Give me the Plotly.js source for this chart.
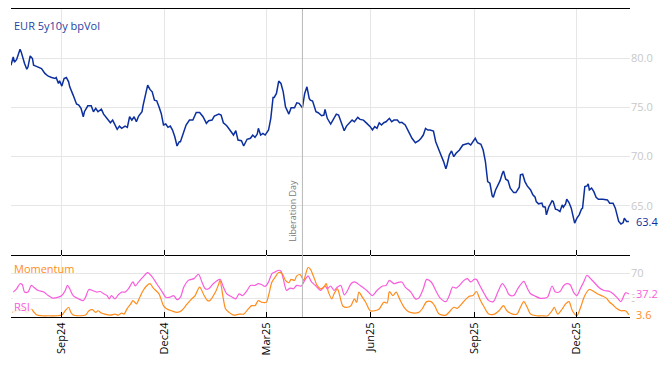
<!DOCTYPE html>
<html>
<head>
<meta charset="utf-8">
<script src="https://cdn.plot.ly/plotly-3.0.1.min.js"></script>
<style>html,body{margin:0;padding:0;background:#fff;}#chart{width:668px;height:366px;}</style>
</head>
<body>
<div id="chart"></div>
<script>
// Day offsets are counted from 2024-07-18
const START_DATE = '2024-07-18';

const volDays = [0,2,3,5,8,9,12,14,15,17,19,20,22,25,27,30,33,36,39,40,42,43,45,47,49,51,52,55,58,60,62,64,65,68,71,73,75,77,80,82,85,88,90,92,94,96,98,101,103,105,107,109,111,113,116,117,119,121,123,125,127,129,131,133,135,137,139,141,143,145,147,149,150,152,155,158,161,164,167,170,173,175,178,180,183,184,186,188,191,194,197,199,201,204,206,209,212,214,216,218,219,221,223,225,228,230,232,233,235,237,239,241,243,246,248,251,253,255,258,260,262,264,265,267,268,270,272,275,277,278,280,283,285,288,290,293,295,297,300,302,304,307,309,312,315,318,320,322,324,326,328,330,332,335,337,339,342,344,346,349,352,355,358,361,363,365,367,369,371,374,376,378,380,383,385,386,388,390,392,394,397,400,402,405,407,409,411,413,416,418,420,422,424,426,427,429,431,433,435,436,438,440,442,445,447,450,451,453,455,457,460,462,464,465,467,470,471,473,474,476,479,480,482,484,486,488,489,491,492,494,496,498,499,501,503,505,506,508,510,511,512,514,516,518,520,524,528,530,533,535,537,538,540,542,543,545,547];
const volVals = [79.29,80.13,79.6,79.87,80.9,80.64,79.46,78.88,79.1,80.23,79.97,79.29,79.2,79.0,78.95,78.45,78.17,78.04,77.94,78.04,77.43,77.7,77.16,77.94,78.04,77.6,77.09,76.25,75.34,75.23,74.9,74.05,74.56,75.16,75.16,74.56,74.9,74.56,74.83,74.32,73.89,73.44,73.71,73.21,72.77,73.1,72.87,73.1,72.97,74.05,73.71,74.05,73.54,74.12,74.56,75.23,76.25,77.26,76.83,76.58,75.74,75.67,75.06,74.39,73.21,73.31,72.97,73.1,72.7,72.02,71.08,71.51,71.51,72.29,73.21,73.71,73.71,74.49,74.49,74.05,73.38,73.64,73.71,74.12,74.22,74.32,74.22,73.44,73.14,72.63,72.19,72.63,71.68,71.61,71.08,71.76,71.86,72.19,71.96,72.29,72.87,72.19,72.36,72.19,72.7,73.89,76.01,76.01,76.42,77.67,77.43,76.58,75.06,74.32,74.97,74.97,75.47,75.41,74.97,76.42,77.09,75.91,75.74,75.64,75.23,74.56,74.46,74.15,74.22,74.8,73.89,73.31,73.71,74.32,74.22,73.38,72.63,73.1,73.54,73.71,73.54,73.99,73.78,73.71,73.38,73.04,72.7,73.04,72.87,73.44,73.21,73.44,73.54,73.89,73.54,73.71,73.71,73.44,73.48,73.21,72.53,71.86,71.41,71.61,71.86,72.19,72.87,72.7,72.7,72.6,71.51,70.84,70.34,69.49,68.75,69.15,70.16,70.57,69.99,70.34,70.67,71.18,71.28,71.35,71.18,71.51,71.86,71.41,71.25,70.67,69.49,67.46,67.29,66.0,65.87,66.61,67.12,67.56,68.31,68.54,67.7,67.56,66.79,66.34,66.34,66.89,68.14,68.21,67.46,67.02,66.61,66.11,65.87,65.43,65.2,65.27,64.92,64.86,64.08,64.86,65.5,65.43,64.66,64.59,64.41,65.09,64.86,65.2,65.67,65.33,64.76,63.75,63.24,63.75,64.08,64.66,64.76,66.95,67.02,67.22,66.61,66.79,66.44,65.87,65.67,65.67,65.6,65.27,65.27,64.76,63.91,63.41,63.14,63.3,63.75,63.41,63.4];

const rsiDays = [2,5,8,10,12,15,18,21,24,29,33,37,42,45,48,50,52,55,60,64,66,69,72,76,79,82,85,87,89,92,95,98,101,104,108,110,113,117,121,125,129,134,137,141,144,147,150,153,157,162,166,169,172,175,179,185,188,191,196,199,202,205,209,212,216,219,222,225,228,231,234,237,239,241,244,247,250,253,257,260,263,266,270,274,278,280,283,286,289,292,295,298,301,304,307,311,315,320,324,329,332,335,339,342,346,349,354,358,361,365,368,372,376,380,385,388,391,394,397,401,404,407,410,412,415,419,423,427,431,435,438,441,445,449,454,457,460,463,468,472,475,479,482,486,489,492,495,498,501,504,507,510,513,516,521,525,530,533,537,540,542,544,547];
const rsiVals = [40.2,45.5,53.7,52.1,40.2,40.2,50.9,46.7,42.8,40.2,34.6,30.4,32.0,34.6,42.8,50.9,45.5,34.6,29.2,26.4,32.0,44.4,42.8,40.2,41.1,37.4,34.6,29.2,34.6,29.2,35.8,40.2,40.2,45.5,56.5,50.0,56.5,64.7,71.7,64.7,53.7,40.2,32.0,32.0,34.6,28.1,32.0,48.3,59.1,61.9,68.9,56.5,45.5,45.5,53.7,60.7,48.3,37.4,32.0,29.2,37.4,34.6,42.8,50.9,50.9,53.7,52.1,49.3,56.5,70.0,72.8,75.4,73.8,61.9,42.8,46.7,45.5,50.9,50.0,59.1,66.3,56.5,50.0,42.8,50.0,45.5,50.0,42.8,48.3,50.9,35.8,42.8,53.7,56.5,53.7,48.3,42.8,34.6,42.8,50.0,50.9,59.1,53.7,55.3,56.5,48.3,40.2,29.2,30.4,45.5,60.7,56.5,42.8,30.4,24.8,34.6,48.3,46.7,50.9,59.1,61.9,56.5,60.7,60.7,50.9,37.4,26.4,24.8,40.2,53.7,46.7,35.8,34.6,46.7,57.5,46.7,37.4,34.6,30.4,30.4,32.0,50.0,40.2,41.1,50.0,53.7,52.1,40.2,34.6,45.5,56.5,67.3,61.9,56.5,46.7,42.8,41.1,37.4,30.4,24.8,32.0,39.0,37.2];

const momDays = [1,5,10,14,18,20,23,27,33,41,45,48,51,53,55,61,66,69,72,75,77,80,83,88,92,95,98,100,103,106,108,111,114,117,120,123,126,131,135,138,142,147,151,156,160,163,167,171,174,176,181,184,185,188,190,193,197,202,206,210,213,216,219,222,226,228,231,234,237,240,243,246,248,251,253,256,259,261,263,265,268,271,274,277,279,281,284,286,289,291,294,298,301,304,306,308,311,314,318,322,326,330,333,335,338,341,344,348,352,357,361,364,368,372,375,379,385,389,392,395,399,403,406,409,412,415,419,423,428,432,436,439,444,448,451,454,457,460,465,470,475,479,481,484,488,491,494,497,501,504,508,512,516,519,524,527,530,533,536,540,544,547];
const momVals = [7.5,10.1,14.0,7.5,12.9,8.5,3.1,2,2,2,3.1,10.1,15.7,7.5,3.1,2,3.1,10.1,11.8,7.5,10.1,6.4,4.7,3.1,4.7,3.1,6.4,4.7,14.0,21.1,26.4,21.1,32,42.8,50.0,53.7,46.7,37.4,18.3,12.9,10.1,7.5,10.1,21.1,29.2,34.6,48.3,34.6,26.4,26.4,40.2,53.7,59.1,29.2,12.9,7.5,3.1,4.7,4.7,12.9,18.3,18.3,26.4,23.8,23.8,34.6,56.5,64.7,71.7,70.0,59.1,55.3,60.7,59.1,66.3,68.4,59.1,70.0,79.8,77.1,64.7,50.9,45.5,48.3,53.7,40.2,29.2,37.4,45.5,34.6,17.3,15.7,18.3,29.2,23.8,40.2,32,23.8,10.1,10.1,12.9,23.8,22.7,41.1,34.6,40.2,29.2,15.7,8.5,6.4,7.5,12.9,24.8,24.8,18.3,4.7,3.1,10.1,15.7,14.0,21.1,29.2,33.6,34.6,41.1,29.2,15.7,4.7,4.7,10.1,18.3,10.1,4.7,4.7,15.7,24.8,15.7,4.7,2,2,2,10.1,15.7,4.7,12.9,21.1,24.8,10.1,2,14.0,34.6,44.4,41.1,37.4,33.6,30.4,23.8,19.4,14.0,10.1,10.1,3.6];

const xRange = ['2024-07-18', '2026-01-17'];
const eventDate = '2025-04-02';
const eventLabel = 'Liberation Day';
const volTicks = [65, 70, 75, 80];
const oscTicks = [30, 70];

const BLUE = '#0b2f9e', ORANGE = '#ff8c1a', PINK = '#f95cdc';

function toDate(d) {
  const base = Date.UTC(2024, 6, 18);
  return new Date(base + d * 86400000).toISOString().slice(0, 10);
}

const traces = [
  {x: volDays.map(toDate), y: volVals, xaxis: 'x', yaxis: 'y', type: 'scatter', mode: 'lines',
   line: {color: BLUE, width: 1.5}, hoverinfo: 'skip'},
  {x: rsiDays.map(toDate), y: rsiVals, xaxis: 'x2', yaxis: 'y2', type: 'scatter', mode: 'lines',
   line: {color: PINK, width: 1.2, shape: 'spline', smoothing: 0.8}, hoverinfo: 'skip'},
  {x: momDays.map(toDate), y: momVals, xaxis: 'x2', yaxis: 'y2', type: 'scatter', mode: 'lines',
   line: {color: ORANGE, width: 1.2, shape: 'spline', smoothing: 0.8}, hoverinfo: 'skip'}
];

const split = 62 / 308;
const gridC = '#e6e6e6';
const tickFontC = '#c8c8c8';

const xCommon = {
  type: 'date', range: xRange, tick0: '2024-09-01', dtick: 'M3',
  showgrid: true, gridcolor: gridC, gridwidth: 1,
  showline: true, linecolor: '#000', linewidth: 1,
  ticks: 'inside', ticklen: 5, tickcolor: '#000', tickwidth: 1, zeroline: false
};

const layout = {
  width: 668, height: 366,
  margin: {l: 11, r: 38, t: 9, b: 49},
  paper_bgcolor: '#fff', plot_bgcolor: '#fff',
  showlegend: false,
  font: {family: '"Open Sans", "DejaVu Sans", sans-serif', size: 11},
  xaxis: Object.assign({}, xCommon, {anchor: 'y', mirror: true, showticklabels: false}),
  xaxis2: Object.assign({}, xCommon, {anchor: 'y2', mirror: false, matches: 'x', showticklabels: true,
    tickformat: '%b%y', tickangle: -90, tickfont: {color: '#000', size: 11}}),
  yaxis: {domain: [split, 1], range: [60, 85], side: 'right', anchor: 'x',
    tickvals: volTicks, tickformat: '.1f', tickfont: {color: tickFontC, size: 11},
    showgrid: true, gridcolor: gridC, zeroline: false, showline: false, ticks: ''},
  yaxis2: {domain: [0, split], range: [0, 100], side: 'right', anchor: 'x2',
    tickvals: oscTicks, tickfont: {color: tickFontC, size: 11},
    showgrid: true, gridcolor: gridC, zeroline: false, showline: false, ticks: ''},
  shapes: [
    {type: 'line', xref: 'x', yref: 'paper', x0: eventDate, x1: eventDate, y0: 0, y1: 1,
     line: {color: '#b8b8b8', width: 1}, layer: 'above'}
  ],
  annotations: [
    {text: 'EUR 5y10y bpVol', xref: 'paper', yref: 'paper', x: 0, y: (317 - 25) / 308,
     xanchor: 'left', yanchor: 'middle', xshift: 1, showarrow: false,
     font: {color: '#1f3f9f', size: 11}},
    {text: 'Momentum', xref: 'paper', yref: 'paper', x: 0, y: (317 - 268) / 308,
     xanchor: 'left', yanchor: 'middle', xshift: 1, showarrow: false,
     font: {color: ORANGE, size: 11}},
    {text: 'RSI', xref: 'paper', yref: 'paper', x: 0, y: (317 - 306) / 308,
     xanchor: 'left', yanchor: 'middle', xshift: 1, showarrow: false,
     bgcolor: 'rgba(255,255,255,0.8)', font: {color: PINK, size: 11}},
    {text: eventLabel, xref: 'x', yref: 'paper', x: eventDate, y: (317 - 211) / 308,
     xanchor: 'center', yanchor: 'middle', xshift: -10, textangle: -90, showarrow: false,
     font: {color: '#777', size: 9}},
    {text: volVals[volVals.length - 1].toFixed(1), xref: 'paper', yref: 'y', x: 1,
     y: volVals[volVals.length - 1], xanchor: 'left', yanchor: 'middle', xshift: 4,
     showarrow: false, font: {color: BLUE, size: 11}},
    {text: rsiVals[rsiVals.length - 1].toFixed(1), xref: 'paper', yref: 'y2', x: 1,
     y: rsiVals[rsiVals.length - 1], xanchor: 'left', yanchor: 'middle', xshift: 4,
     showarrow: false, bgcolor: 'rgba(255,255,255,0.8)', font: {color: PINK, size: 11}},
    {text: momVals[momVals.length - 1].toFixed(1), xref: 'paper', yref: 'y2', x: 1,
     y: momVals[momVals.length - 1], xanchor: 'left', yanchor: 'middle', xshift: 4,
     showarrow: false, font: {color: ORANGE, size: 11}}
  ]
};

Plotly.newPlot('chart', traces, layout, {staticPlot: true, displayModeBar: false});
</script>
</body>
</html>
